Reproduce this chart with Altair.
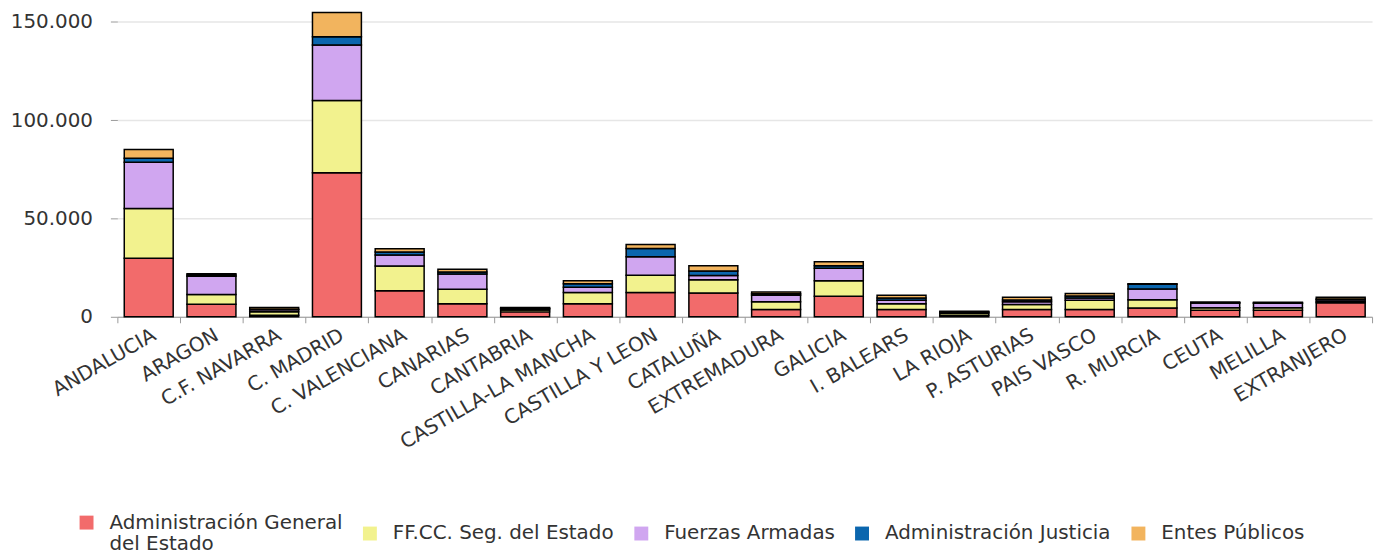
import altair as alt
import pandas as pd

regions = ["ANDALUCIA", "ARAGON", "C.F. NAVARRA", "C. MADRID", "C. VALENCIANA",
           "CANARIAS", "CANTABRIA", "CASTILLA-LA MANCHA", "CASTILLA Y LEON",
           "CATALUÑA", "EXTREMADURA", "GALICIA", "I. BALEARS", "LA RIOJA",
           "P. ASTURIAS", "PAIS VASCO", "R. MURCIA", "CEUTA", "MELILLA", "EXTRANJERO"]

series = ["Administración General del Estado", "FF.CC. Seg. del Estado",
          "Fuerzas Armadas", "Administración Justicia", "Entes Públicos"]

age = [29800, 6400, 800, 73300, 13300, 6600, 2500, 6600, 12300, 12100,
       3700, 10400, 3700, 800, 3700, 3700, 4500, 3300, 3300, 7100]
ffcc = [25300, 4900, 1800, 36700, 12500, 7400, 900, 5700, 8800, 6700,
        3900, 7900, 2900, 1000, 2500, 4700, 4200, 1300, 1300, 700]
ffaa = [23500, 9300, 1000, 28200, 5600, 7700, 700, 2700, 9400, 2200,
        3300, 6400, 1800, 500, 1500, 1200, 5400, 2400, 2300, 900]
justicia = [2000, 700, 200, 4200, 1500, 1100, 250, 1800, 4200, 2300,
            800, 1300, 1200, 200, 900, 1000, 2500, 150, 150, 300]
entes = [4500, 600, 950, 12300, 1700, 1400, 400, 1500, 2100, 2600,
         900, 2000, 1300, 300, 1300, 1200, 200, 350, 350, 900]

colors = ["#F26B6B", "#F2F28E", "#D0A6F0", "#0B66AE", "#F2B45E"]
y_ticks = [0, 50000, 100000, 150000]

rows = []
for j, (s, vals) in enumerate(zip(series, [age, ffcc, ffaa, justicia, entes])):
    for i, r in enumerate(regions):
        rows.append({"region": r, "serie": s, "valor": vals[i], "orden": j})
df = pd.DataFrame(rows)

FONT = "DejaVu Sans"

chart = alt.Chart(df).mark_bar(
    stroke="black", strokeWidth=1.5, width={"band": 0.78}
).encode(
    x=alt.X("region:N", sort=regions, title=None,
            scale=alt.Scale(paddingInner=0, paddingOuter=0),
            axis=alt.Axis(labelAngle=-30, labelAlign="right", labelBaseline="top",
                          tickBand="extent", tickSize=6, labelPadding=2,
                          labelFont=FONT, labelFontSize=20, labelColor="#333333",
                          labelLimit=400, domainColor="#999999", tickColor="#999999",
                          grid=False)),
    y=alt.Y("valor:Q", stack="zero", title=None,
            scale=alt.Scale(domain=[0, 155200], nice=False),
            axis=alt.Axis(values=y_ticks,
                          labelExpr="replace(format(datum.value, ',d'), ',', '.')",
                          labelFont=FONT, labelFontSize=20, labelColor="#333333",
                          tickSize=7, labelPadding=18, tickColor="#999999",
                          domain=False, gridColor="#e6e6e6", gridWidth=1.5)),
    color=alt.Color("serie:N", sort=series,
                    scale=alt.Scale(domain=series, range=colors),
                    legend=alt.Legend(
                        title=None, orient="none", legendX=-41, legendY=504,
                        direction="horizontal", columns=5, columnPadding=17,
                        labelOffset=13, labelFont=FONT, labelFontSize=20,
                        labelColor="#333333", labelLimit=400,
                        symbolType="square", symbolSize=196, symbolStrokeWidth=0,
                        symbolOpacity=1,
                        labelExpr="datum.label == 'Administración General del Estado' ? ['Administración General', 'del Estado'] : datum.label")),
    order=alt.Order("orden:Q", sort="ascending"),
).properties(
    width=1262, height=307,
    autosize=alt.AutoSizeParams(type="none"),
    padding={"left": 110, "top": 2, "right": 10, "bottom": 238},
).configure_view(stroke=None)

chart.save("out.html", embed_options={"renderer": "svg", "actions": False})
